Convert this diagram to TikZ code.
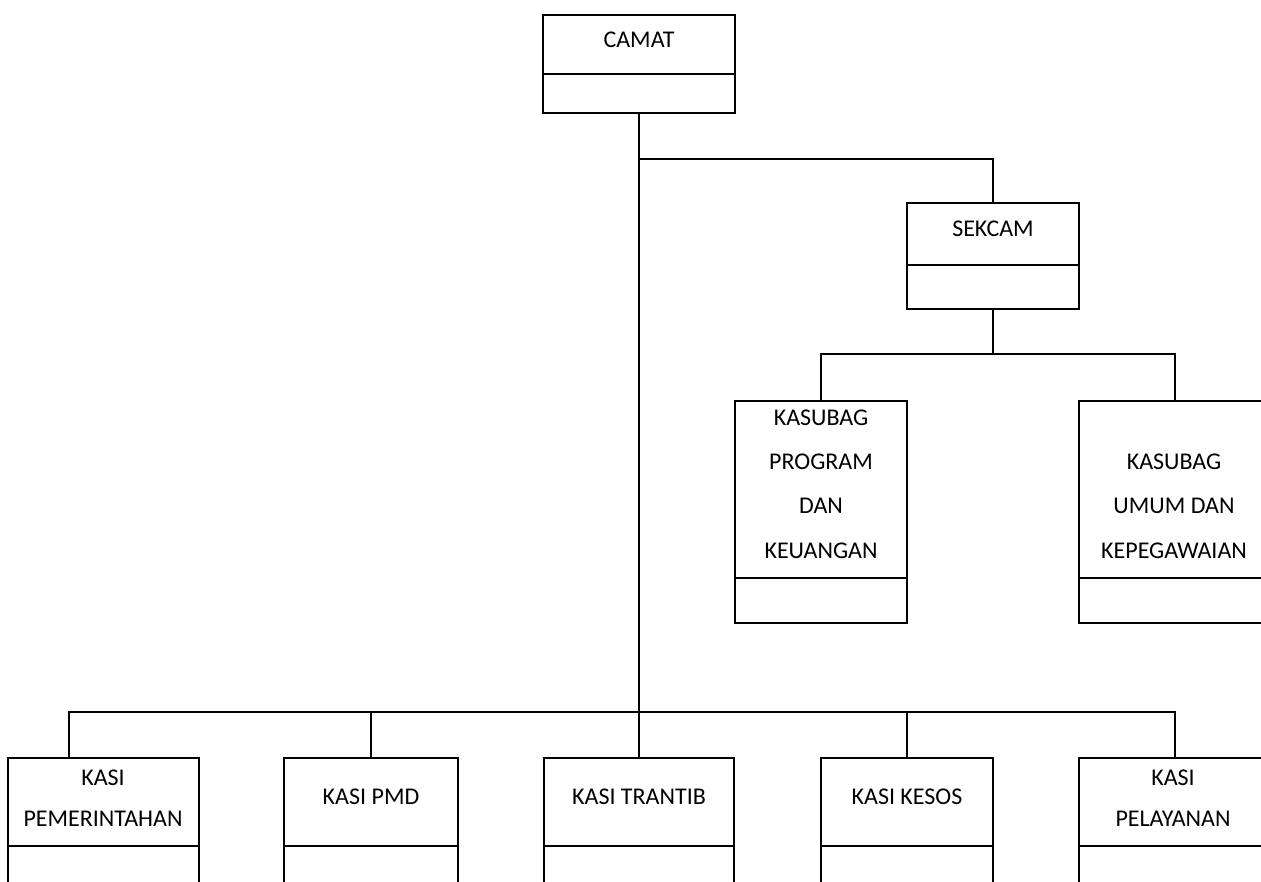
\documentclass[tikz,border=0pt]{standalone}
\usepackage{fontspec}
\setmainfont{Carlito}
\begin{document}
\begin{tikzpicture}[x=1pt,y=-1pt,
  orgbox/.style={draw=black,line width=1.3pt,rectangle,inner sep=0pt,fill=none},
  lbl/.style={inner sep=0pt,align=center,font=\fontsize{24}{28}\selectfont},
  lblk/.style={inner sep=0pt,align=center,font=\fontsize{24}{44.3}\selectfont},
  lbls/.style={inner sep=0pt,align=center,font=\fontsize{24}{41}\selectfont},
  conn/.style={draw=black,line width=1.3pt}]
\useasboundingbox (0,0) rectangle (1261,882);
\clip (0,0) rectangle (1261,882);
% boxes
\node[orgbox,minimum width=192pt,minimum height=98pt] (camat) at (639,64) {};
\node[orgbox,minimum width=172pt,minimum height=106pt] (sekcam) at (993,256) {};
\node[orgbox,minimum width=172pt,minimum height=222pt] (kprog) at (821,512) {};
\node[orgbox,minimum width=192pt,minimum height=222pt] (kumum) at (1175,512) {};
\node[orgbox,minimum width=191pt,minimum height=180pt] (pem) at (103.5,848) {};
\node[orgbox,minimum width=174pt,minimum height=180pt] (pmd) at (371,848) {};
\node[orgbox,minimum width=190pt,minimum height=180pt] (trantib) at (639,848) {};
\node[orgbox,minimum width=172pt,minimum height=180pt] (kesos) at (907,848) {};
\node[orgbox,minimum width=192pt,minimum height=180pt] (pel) at (1175,848) {};
% dividers
\draw[conn] (camat.west |- 0,74) -- (camat.east |- 0,74);
\draw[conn] (sekcam.west |- 0,265) -- (sekcam.east |- 0,265);
\draw[conn] (kprog.west |- 0,578) -- (kprog.east |- 0,578);
\draw[conn] (kumum.west |- 0,578) -- (kumum.east |- 0,578);
\foreach \b in {pem,pmd,trantib,kesos,pel}{
  \draw[conn] (\b.west |- 0,846) -- (\b.east |- 0,846);
}
% labels
\node[lbl] (tcamat) at (639,40) {CAMAT};
\node[lbl] (tsekcam) at (993,229) {SEKCAM};
\node[lblk] (tkprog) at (821,484) {KASUBAG\\PROGRAM\\DAN\\KEUANGAN};
\node[lblk] (tkumum) at (1174,506) {KASUBAG\\UMUM DAN\\KEPEGAWAIAN};
\node[lbls] (tpem) at (103,798) {KASI\\PEMERINTAHAN};
\node[lbl] (tpmd) at (371,797) {KASI PMD};
\node[lbl] (ttrantib) at (639,797) {KASI TRANTIB};
\node[lbl] (tkesos) at (907,797) {KASI KESOS};
\node[lbls] (tpel) at (1173,798) {KASI\\PELAYANAN};
% connectors
\coordinate (j1) at (639,159);
\coordinate (j2) at (993,354);
\coordinate (j3) at (639,712);
\coordinate (pemtop) at (69,758);
\draw[conn] (camat.south) -- (trantib.north);
\draw[conn] (j1) -| (sekcam.north);
\draw[conn] (sekcam.south) -- (j2);
\draw[conn] (j2) -| (kprog.north);
\draw[conn] (j2) -| (kumum.north);
\draw[conn] (j3) -| (pemtop);
\draw[conn] (j3) -| (pmd.north);
\draw[conn] (j3) -| (kesos.north);
\draw[conn] (j3) -| (pel.north);
\end{tikzpicture}
\end{document}
